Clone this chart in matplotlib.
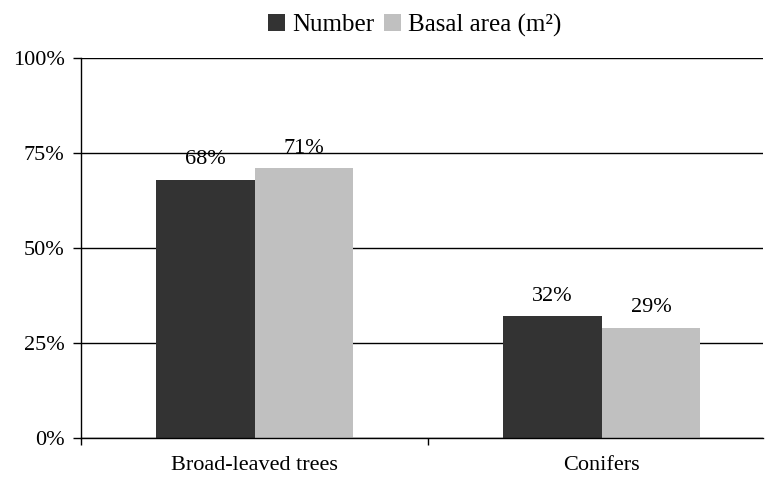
import matplotlib
matplotlib.use("Agg")
import matplotlib.pyplot as plt
import numpy as np
from matplotlib.ticker import FuncFormatter

categories = ["Broad-leaved trees", "Conifers"]
number = [68, 32]
basal = [71, 29]
series_names = ["Number", "Basal area (m\u00b2)"]

plt.rcParams['font.family'] = ['Liberation Serif', 'DejaVu Serif']
plt.rcParams['font.size'] = 16

W, H = 765, 480
fig = plt.figure(figsize=(W/100, H/100), dpi=100)
ax = fig.add_axes([81/W, 1-438/H, (763-81)/W, (438-58)/H])

x = np.arange(len(categories))
bw = 0.285
b1 = ax.bar(x - bw/2, number, bw, color="#333333", label=series_names[0], zorder=3)
b2 = ax.bar(x + bw/2, basal, bw, color="#c0c0c0", label=series_names[1], zorder=3)

for bars, vals in ((b1, number), (b2, basal)):
    for r, v in zip(bars, vals):
        ax.annotate(f"{v}%", (r.get_x() + r.get_width()/2, v), xytext=(0, 14.5),
                    textcoords="offset points", ha="center", va="center", fontsize=16, zorder=4)

ax.set_ylim(0, 100)
ax.set_yticks([0, 25, 50, 75, 100])
ax.yaxis.set_major_formatter(FuncFormatter(lambda v, p: f"{int(v)}%"))
ax.set_xlim(-0.5, -0.5 + (763-81)/347)
ax.set_xticks([-0.5, 0.5])
ax.set_xticklabels([])
ax.set_xticks(x, minor=True)
ax.set_xticklabels(categories, minor=True)
ax.tick_params(axis='x', which='minor', length=0, pad=13)
ax.tick_params(axis='x', which='major', length=5, direction='out', width=1)
ax.tick_params(axis='y', length=5.8, direction='out', width=1, pad=6)
ax.grid(axis='y', color='black', linewidth=1, zorder=0)
for s in ['top', 'right']:
    ax.spines[s].set_visible(False)
ax.spines['left'].set_linewidth(1)
ax.spines['bottom'].set_linewidth(1)
ax.spines['bottom'].set_zorder(5)

fig.legend(loc='center', bbox_to_anchor=(414.5/W, 1-25/H), ncol=2, frameon=False,
           handlelength=0.68, handleheight=0.68, handletextpad=0.28, columnspacing=0.4,
           fontsize=18, borderaxespad=0, borderpad=0)

fig.savefig("out.png", dpi=100)
